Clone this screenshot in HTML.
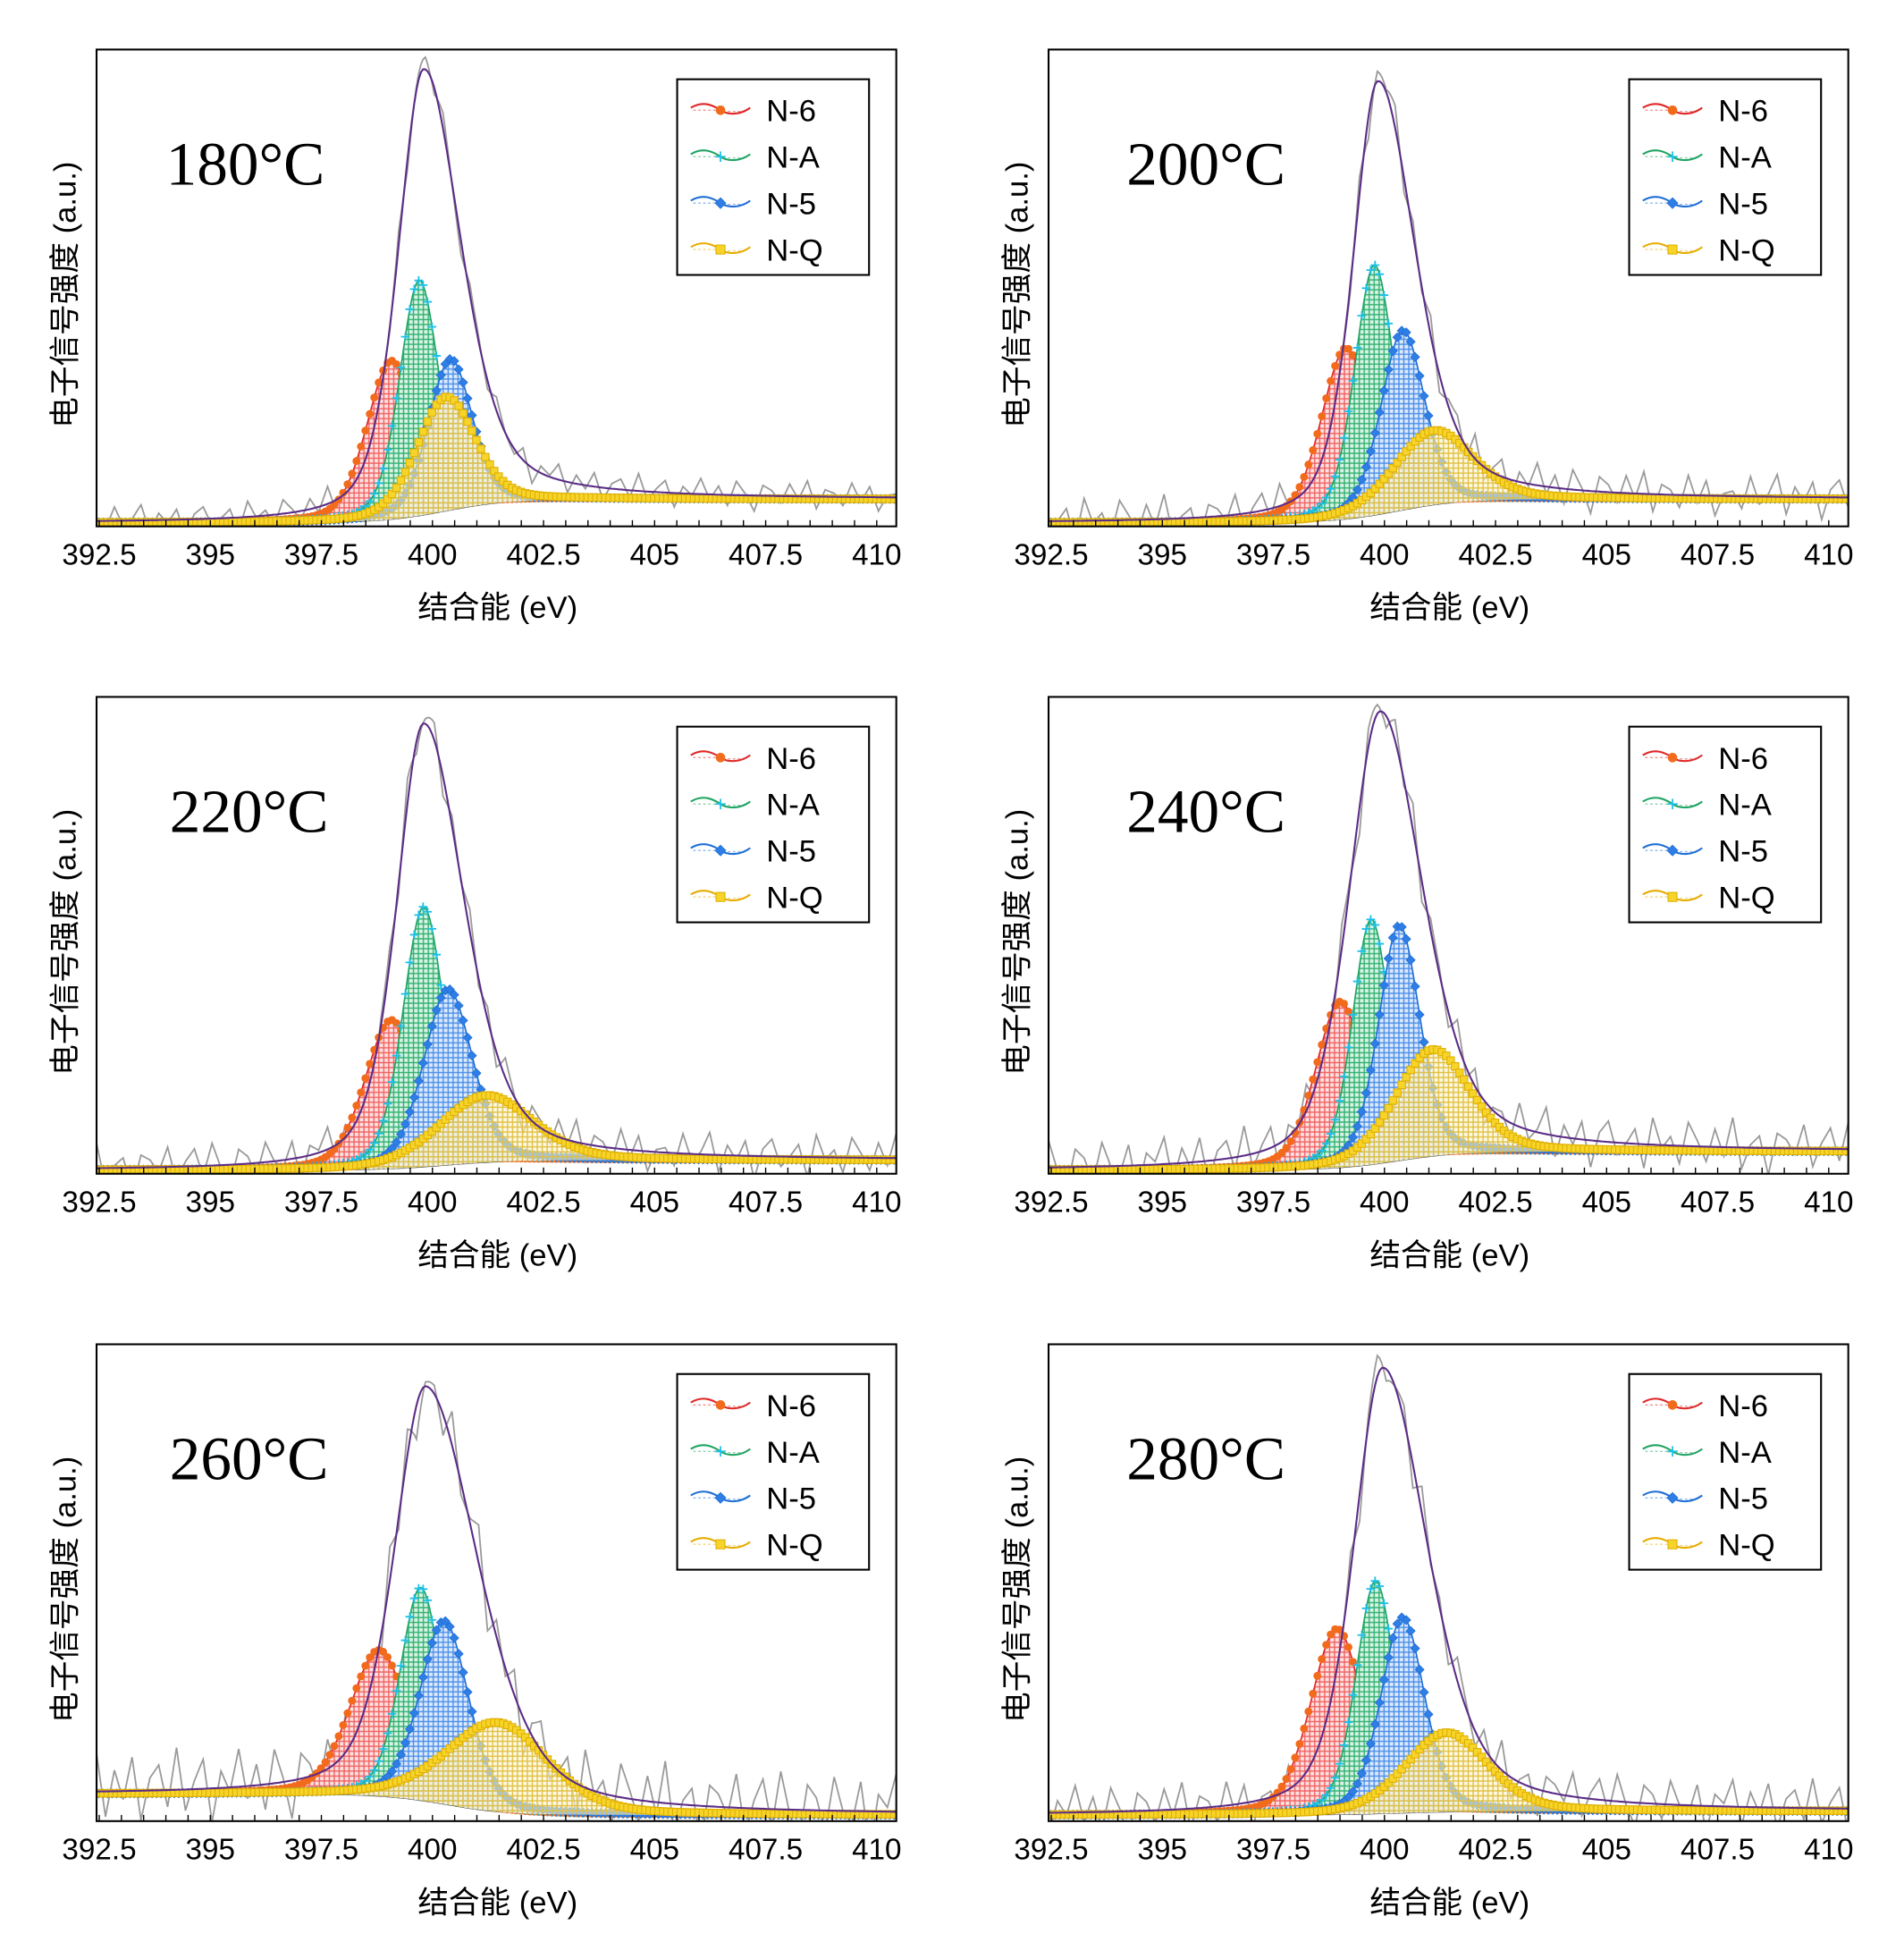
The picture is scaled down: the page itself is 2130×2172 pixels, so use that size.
<!DOCTYPE html>
<html><head><meta charset="utf-8">
<style>
html,body{margin:0;padding:0;background:#fff;}
svg{display:block;}
</style></head>
<body>
<svg id="fig" width="2130" height="2172" viewBox="0 0 1538 1568" preserveAspectRatio="none" xmlns="http://www.w3.org/2000/svg">
<defs>
<pattern id="hat-n6" width="4" height="4" patternUnits="userSpaceOnUse"><rect width="4" height="4" fill="#fde0e0"/><path d="M0 2H4M2 0V4" stroke="#f06060" stroke-width="1"/></pattern>
<pattern id="hat-na" width="4" height="4" patternUnits="userSpaceOnUse"><rect width="4" height="4" fill="#d8f3e4"/><path d="M0 2H4M2 0V4" stroke="#30b070" stroke-width="1"/></pattern>
<pattern id="hat-n5" width="4" height="4" patternUnits="userSpaceOnUse"><rect width="4" height="4" fill="#dce9fb"/><path d="M0 2H4M2 0V4" stroke="#4a8ee8" stroke-width="1"/></pattern>
<pattern id="hat-nq" width="4" height="4" patternUnits="userSpaceOnUse"><rect width="4" height="4" fill="#fbf3d0" fill-opacity="0.6"/><path d="M0 2H4M2 0V4" stroke="#e0c040" stroke-width="1"/></pattern>
</defs>
</svg>
<script>
const temps = ['180°C','200°C','220°C','240°C','260°C','280°C'];
const envCenter = [399.8,399.85,399.8,399.9,399.85,399.96];
const envHeight = [360,350,358,365,335,360];
const envWL = [0.68,0.66,0.72,0.84,0.84,0.78];
const envWR = [1.0,1.0,1.08,1.14,1.4,1.2];
const n6Center = [399.07,399.13,399.07,399.0,398.8,398.93];
const n6Height = [128,138,120,134,118,150];
const n6Width = [0.65,0.65,0.7,0.65,0.78,0.7];
const naCenter = [399.7,399.77,399.8,399.7,399.74,399.8];
const naHeight = [190,202,210,198,172,188];
const naWidth = [0.52,0.52,0.55,0.5,0.55,0.52];
const n5Center = [400.4,400.41,400.35,400.33,400.27,400.41];
const n5Height = [122,145,142,190,148,158];
const n5Width = [0.58,0.58,0.65,0.55,0.65,0.58];
const nqCenter = [400.3,401.1,401.2,401.08,401.47,401.4];
const nqHeight = [92,60,54,86,72,64];
const nqWidth = [0.78,1.05,1.25,1.0,1.35,1.1];
const bgLeft = [3,3,3,3,22,5];
const bgRight = [22,22,11,18,5,8];
const noiseAmp = [14,20,20,24,34,24];
const noise = [0.2,-0.5,0.8,-0.3,0.1,0.9,-0.7,0.4,-0.2,0.6,-0.9,0.3,0.7,-0.4,0.0,0.5,-0.8,0.9,-0.1,0.3,-0.6,0.8,0.2,-0.5,0.6,-0.3,1.0,-0.7,0.1,0.4,-0.9,0.5,0.3,-0.2,0.8,-0.6,0.2,0.7,-0.4,0.9,-0.1,-0.8,0.6,0.3,-0.5,0.8,0.0,-0.3,0.7,-0.9,0.4,0.1,0.9,-0.6,0.5,-0.2,0.8,-0.7,0.3,0.6,-0.4,1.0,-0.5,0.2,0.7,-0.8,0.4,-0.1,0.9,-0.3,0.5,-0.6,0.8,0.1,-0.9,0.6,0.3,-0.4,0.7,-0.2,0.9,-0.7,0.4,0.2,-0.5,0.8,-0.3,0.6,-0.8,0.1];
const xTicks = [392.5,395,397.5,400,402.5,405,407.5,410];
const xTickLabels = ['392.5','395','397.5','400','402.5','405','407.5','410'];

const NS='http://www.w3.org/2000/svg';
const svg=document.getElementById('fig');
const XMIN=392.44, XMAX=410.44, PW=646, PH=385;
const SANS='"Liberation Sans","Noto Sans CJK SC",sans-serif';
function mk(tag,attrs,parent){const e=document.createElementNS(NS,tag);for(const k in attrs)e.setAttribute(k,attrs[k]);parent.appendChild(e);return e;}
function pv(x,c,h,w,eta){const d=(x-c)/w;return h*(eta/(1+d*d)+(1-eta)*Math.exp(-Math.LN2*d*d));}
function bgAt(p,x){return bgLeft[p]+(bgRight[p]-bgLeft[p])/(1+Math.exp(-(x-400.3)/0.7));}
function noiseAt(p,x){const t=(x-XMIN)/0.2+p*13;const i=Math.floor(t),f=t-i;const a=noise[i%noise.length],b=noise[(i+1)%noise.length];return a+(b-a)*f;}

const comps=[
 {key:'n6',c:n6Center,h:n6Height,w:n6Width,line:'#e02828',mk:'#f26a1b',shape:'circle',label:'N-6'},
 {key:'na',c:naCenter,h:naHeight,w:naWidth,line:'#1fa463',mk:'#1cc0e8',shape:'plus',label:'N-A'},
 {key:'n5',c:n5Center,h:n5Height,w:n5Width,line:'#1f6fd6',mk:'#2f7ee6',shape:'diamond',label:'N-5'},
 {key:'nq',c:nqCenter,h:nqHeight,w:nqWidth,line:'#e6ac00',mk:'#f7d42a',shape:'square',label:'N-Q'}
];

function marker(g,shape,x,y,color,name,s){
 s=s||1;let e;
 if(shape==='circle'){e=mk('circle',{cx:x,cy:y,r:3.2*s,fill:color},g);}
 else if(shape==='plus'){e=mk('path',{d:`M${x-3.5*s} ${y}H${x+3.5*s}M${x} ${y-3.5*s}V${y+3.5*s}`,stroke:color,'stroke-width':1.3,fill:'none'},g);}
 else if(shape==='diamond'){e=mk('path',{d:`M${x} ${y-3.6*s}L${x+3.6*s} ${y}L${x} ${y+3.6*s}L${x-3.6*s} ${y}Z`,fill:color,stroke:'#1f6fd6','stroke-width':0.6},g);}
 else {e=mk('rect',{x:x-3*s,y:y-3*s,width:6*s,height:6*s,fill:color,stroke:'#e0b000','stroke-width':0.8},g);}
 
 
}

for(let p=0;p<6;p++){
 const col=p%2,row=Math.floor(p/2);
 const x0=col?847:78, y0=40+row*522.7;
 const sx=v=>x0+(v-XMIN)/(XMAX-XMIN)*PW;
 const sy=v=>y0+PH-v;
 const g=mk('g',{},svg);
 
 
 const clip=mk('clipPath',{id:'clip'+p},svg);
 mk('rect',{x:x0,y:y0,width:PW,height:PH},clip);
 const plot=mk('g',{'clip-path':`url(#clip${p})`},g);
 
 
 const xs=[];for(let x=XMIN;x<=XMAX+0.001;x+=0.05)xs.push(x);
 const envAt=x=>bgAt(p,x)+(x<envCenter[p]?pv(x,envCenter[p],envHeight[p],envWL[p],0.45):pv(x,envCenter[p],envHeight[p],envWR[p],0.45));
 let d='';xs.forEach((x,i)=>{const v=envAt(x)+noiseAt(p,x)*noiseAmp[p];d+=(i?'L':'M')+sx(x).toFixed(1)+' '+sy(v).toFixed(1);});
 const raw=mk('path',{d:d,fill:'none',stroke:'#9a9a9a','stroke-width':1.3},plot);
 
 
 d='';xs.forEach((x,i)=>{d+=(i?'L':'M')+sx(x).toFixed(1)+' '+sy(bgAt(p,x)).toFixed(1);});
 const bgl=mk('path',{d:d,fill:'none',stroke:'#555','stroke-width':1},plot);
 
 
 comps.forEach(cp=>{
  const cg=mk('g',{},plot);
  
  
  let top='',bot='';
  xs.forEach((x,i)=>{const v=bgAt(p,x)+pv(x,cp.c[p],cp.h[p],cp.w[p],0.3);top+=(i?'L':'M')+sx(x).toFixed(1)+' '+sy(v).toFixed(1);});
  for(let i=xs.length-1;i>=0;i--){bot+='L'+sx(xs[i]).toFixed(1)+' '+sy(bgAt(p,xs[i])).toFixed(1);}
  const area=mk('path',{d:top+bot+'Z',fill:`url(#hat-${cp.key})`,stroke:'none'},cg);
  
  
  const ln=mk('path',{d:top,fill:'none',stroke:cp.line,'stroke-width':1.2},cg);
  
  
  for(let x=XMIN+0.05;x<=XMAX;x+=0.1){const v=bgAt(p,x)+pv(x,cp.c[p],cp.h[p],cp.w[p],0.3);marker(cg,cp.shape,sx(x),sy(v),cp.mk,'marker-'+cp.key);}
 });
 d='';xs.forEach((x,i)=>{d+=(i?'L':'M')+sx(x).toFixed(1)+' '+sy(envAt(x)).toFixed(1);});
 const env=mk('path',{d:d,fill:'none',stroke:'#5b2c86','stroke-width':1.5},plot);
 
 
 const fr=mk('rect',{x:x0,y:y0,width:PW,height:PH,fill:'none',stroke:'#000','stroke-width':1.5},g);
 
 
 for(let t=392.5;t<=410.01;t+=0.5){const tk=mk('line',{x1:sx(t),x2:sx(t),y1:y0+PH,y2:y0+PH-5,stroke:'#000','stroke-width':1},g);}
 xTicks.forEach((t,i)=>{const tx=mk('text',{x:sx(t),y:y0+PH+31,'text-anchor':'middle','font-size':24,fill:'#000',style:'font-family:'+SANS},g);tx.textContent=xTickLabels[i];});
 const xt=mk('text',{x:x0+324,y:y0+PH+74,'text-anchor':'middle','font-size':25,fill:'#000',style:'font-family:'+SANS},g);xt.textContent='结合能 (eV)';
 
 const yt=mk('text',{x:0,y:0,'text-anchor':'middle','font-size':25,fill:'#000',style:'font-family:'+SANS,transform:`translate(${x0-17},${y0+198}) rotate(-90)`},g);yt.textContent='电子信号强度 (a.u.)';
 
 const tl=mk('text',{x:col?x0+63:x0+56+(p>=2?3:0),y:y0+109,'font-size':50,fill:'#000',style:'font-family:"Liberation Serif",serif'},g);tl.textContent=temps[p];
 
 const lg=mk('g',{},g);
 mk('rect',{x:x0+469,y:y0+24,width:155,height:158,fill:'#fff',stroke:'#000','stroke-width':1.5},lg);
 comps.forEach((cp,i)=>{
  const cy=y0+49+i*37.5;const lx=x0+480;
  const e=mk('g',{},lg);
  mk('path',{d:`M${lx} ${cy-2}C${lx+10} ${cy-8} ${lx+18} ${cy-4} ${lx+24} ${cy}S${lx+40} ${cy+4} ${lx+48} ${cy-2}`,fill:'none',stroke:cp.line,'stroke-width':1.5},e);
  mk('path',{d:`M${lx+2} ${cy}H${lx+20}M${lx+30} ${cy+1}H${lx+46}`,fill:'none',stroke:cp.line,'stroke-width':1,'stroke-dasharray':'2 2','stroke-opacity':0.5},e);
  marker(e,cp.shape,lx+24,cy,cp.mk,'legend-marker',1.2);
  const t=mk('text',{x:x0+541,y:cy+9,'font-size':25,fill:'#000',style:'font-family:'+SANS},e);t.textContent=cp.label;
 });
}
</script>
</body></html>
